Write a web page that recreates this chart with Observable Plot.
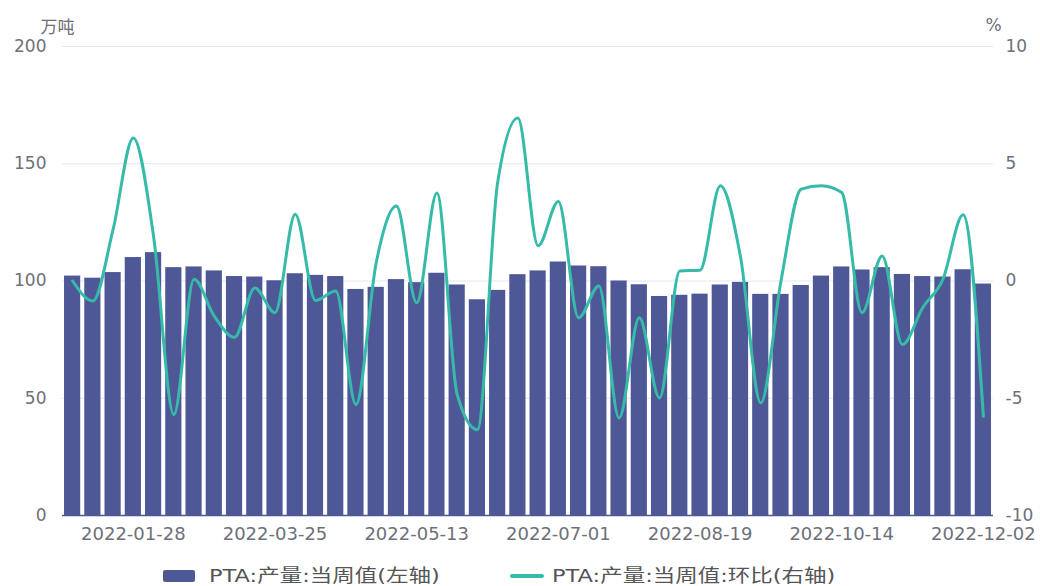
<!DOCTYPE html>
<html>
<head>
<meta charset="utf-8">
<script src="https://cdn.jsdelivr.net/npm/d3@7"></script>
<script src="https://cdn.jsdelivr.net/npm/@observablehq/plot@0.6"></script>
<style>
  body { margin: 0; background: #fff; }
  #wrap { position: relative; width: 1040px; height: 586px; overflow: hidden; background: #fff;
          font-family: "DejaVu Sans", "Noto Sans CJK SC", sans-serif; }
  #chart { position: absolute; left: 0; top: 0; }
  .leg { position: absolute; top: 565px; height: 22px; line-height: 22px; display: flex; align-items: center;
         font-size: 18px; color: #555; white-space: nowrap; }
  .leg .sw-bar { width: 32px; height: 12px; background: #4e5897; border-radius: 2px; margin-right: 14px; }
  .leg .sw-line { width: 34px; height: 4px; background: #36bba9; border-radius: 2px; margin-right: 8px; }
  .leg span.t { display: inline-block; transform: scaleX(1.25); transform-origin: left center; }
</style>
</head>
<body>
<div id="wrap">
  <div id="chart"></div>
  <div class="leg" style="left:163px"><div class="sw-bar"></div><span class="t" id="lg1"></span></div>
  <div class="leg" style="left:510px"><div class="sw-line"></div><span class="t" id="lg2"></span></div>
</div>
<script>
// Weekly dates (categories)
const dates = [
  "2022-01-07","2022-01-14","2022-01-21","2022-01-28","2022-02-11","2022-02-18","2022-02-25",
  "2022-03-04","2022-03-11","2022-03-18","2022-03-25","2022-04-01","2022-04-08","2022-04-15",
  "2022-04-22","2022-04-29","2022-05-06","2022-05-13","2022-05-20","2022-05-27","2022-06-03",
  "2022-06-10","2022-06-17","2022-06-24","2022-07-01","2022-07-08","2022-07-15","2022-07-22",
  "2022-07-29","2022-08-05","2022-08-12","2022-08-19","2022-08-26","2022-09-02","2022-09-09",
  "2022-09-16","2022-09-23","2022-09-30","2022-10-14","2022-10-21","2022-10-28","2022-11-04",
  "2022-11-11","2022-11-18","2022-11-25","2022-12-02"
];
// PTA weekly output (万吨, left axis)
const output = [
  102.1, 101.2, 103.6, 110.0, 112.1, 105.7, 106.0, 104.3, 101.9, 101.7, 100.1, 103.1,
  102.4, 101.9, 96.4, 97.3, 100.6, 99.3, 103.3, 98.3, 92.0, 96.0, 102.7, 104.3,
  108.1, 106.4, 106.1, 100.0, 98.4, 93.4, 93.9, 94.4, 98.3, 99.4, 94.3, 94.3,
  98.1, 102.1, 106.0, 104.7, 105.7, 102.8, 101.9, 101.7, 104.8, 98.7
];
// Week-on-week change (%, right axis)
const wow = [
  0.0, -0.85, 2.2, 6.1, 1.9, -5.7, 0.07, -1.5, -2.4, -0.3, -1.35, 2.85,
  -0.83, -0.43, -5.27, 0.78, 3.2, -0.93, 3.75, -4.84, -6.34, 4.2, 6.95, 1.5,
  3.39, -1.57, -0.21, -5.84, -1.57, -4.99, 0.43, 0.46, 4.06, 1.03, -5.2, 0.0,
  3.92, 4.06, 3.77, -1.35, 1.07, -2.71, -1.14, 0.07, 2.82, -5.77
];
const xTickLabels = ["2022-01-28","2022-03-25","2022-05-13","2022-07-01","2022-08-19","2022-10-14","2022-12-02"];
const leftTicks = [0, 50, 100, 150, 200];
const rightTicks = [-10, -5, 0, 5, 10];
const leftUnit = "万吨";
const rightUnit = "%";
const seriesNames = ["PTA:产量:当周值(左轴)", "PTA:产量:当周值:环比(右轴)"];

const toLeft = v => (v + 10) * 10;   // map right-axis % onto left-axis scale
const rows = dates.map((d, i) => ({date: d, output: output[i], wow: wow[i]}));

const barColor = "#4e5897";
const lineColor = "#36bba9";
const textColor = "#6e7079";

const chart = Plot.plot({
  width: 1040,
  height: 550,
  marginLeft: 62,
  marginRight: 47,
  marginTop: 46,
  marginBottom: 35,
  style: {fontFamily: '"DejaVu Sans", "Noto Sans CJK SC", sans-serif', fontSize: "17px", color: textColor, background: "transparent"},
  x: {type: "band", domain: dates, paddingInner: 0.2, paddingOuter: 0.1, align: 0.5, round: false},
  y: {domain: [0, 200]},
  marks: [
    Plot.gridY(leftTicks.slice(1), {stroke: "#e4e5f4", strokeOpacity: 1, strokeWidth: 1}),
    Plot.barY(rows, {x: "date", y: "output", fill: barColor}),
    Plot.ruleY([0], {stroke: barColor, strokeWidth: 1.5}),
    Plot.line(rows, {x: "date", y: d => toLeft(d.wow), stroke: lineColor, strokeWidth: 3, curve: "monotone-x"}),
    Plot.axisX({ticks: xTickLabels, tickSize: 0, tickPadding: 12, fontSize: 18, label: null}),
    Plot.axisY({anchor: "left", ticks: leftTicks, tickSize: 0, tickPadding: 16, label: null}),
    Plot.axisY({anchor: "right", ticks: rightTicks.map(toLeft), tickFormat: d => `${d / 10 - 10}`, tickSize: 0, tickPadding: 12, label: null}),
    Plot.text([leftUnit], {frameAnchor: "top-left", dx: -22, dy: -26, textAnchor: "start", fontSize: 17, fill: textColor}),
    Plot.text([rightUnit], {frameAnchor: "top-right", dx: 0, dy: -28, textAnchor: "middle", fontSize: 17, fill: textColor})
  ]
});
document.getElementById("chart").appendChild(chart);
document.getElementById("lg1").textContent = seriesNames[0];
document.getElementById("lg2").textContent = seriesNames[1];
</script>
</body>
</html>
